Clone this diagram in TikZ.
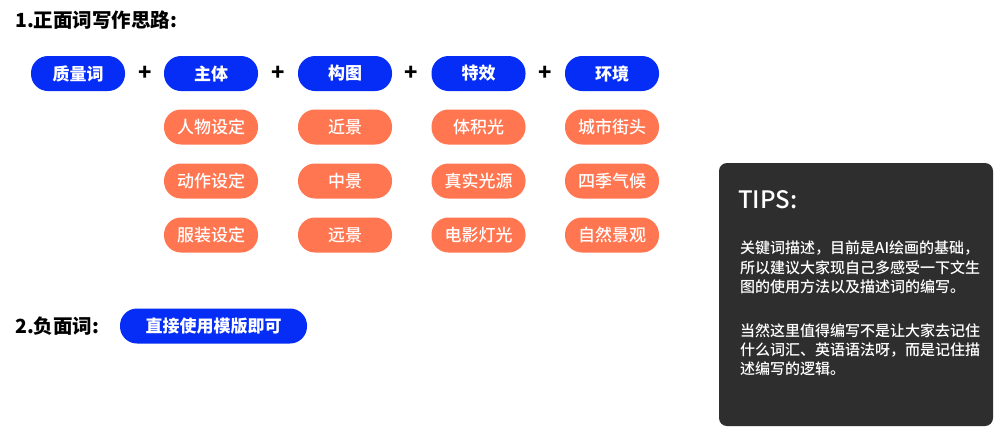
\documentclass[tikz,border=0pt]{standalone}
\usepackage{fontspec}
\setmainfont{Noto Sans CJK SC}
\newfontfamily\medfont{Noto Sans CJK SC Medium}
\usepackage{tikz}
\definecolor{pillblue}{HTML}{052DF5}
\definecolor{pillorange}{HTML}{FF7650}
\definecolor{tipsgray}{HTML}{2E2E2E}

\begin{document}
\begin{tikzpicture}[x=1pt,y=-1pt,
    bluepill/.style={fill=pillblue,text=white,rounded corners=17pt,
      minimum width=94pt,minimum height=35pt,inner sep=0pt,
      font=\bfseries\fontsize{17}{20}\selectfont},
    orangepill/.style={fill=pillorange,text=white,rounded corners=17pt,
      minimum width=94pt,minimum height=35pt,inner sep=0pt,
      font=\medfont\fontsize{17}{20}\selectfont},
    plussign/.style={inner sep=0pt,font=\bfseries\fontsize{22}{22}\selectfont},
    heading/.style={anchor=west,inner sep=0pt,font=\bfseries\fontsize{19.5}{22}\selectfont},
    tipline/.style={anchor=west,inner sep=0pt,text=white,font=\medfont\fontsize{15}{19}\selectfont}]
        \useasboundingbox (0,0) rectangle (1000,432);
        \fill[white] (0,0) rectangle (1000,432);
        % part 1
        \node[heading] (title1) at (15,20) {1.正面词写作思路:};
        \node[bluepill] (quality) at (78,73.5) {质量词};
        \node[plussign] (plusA) at (145,73) {+};
        \node[bluepill] (subject) at (211,73.5) {主体};
        \node[plussign] (plusB) at (278,73) {+};
        \node[bluepill] (compose) at (345,73.5) {构图};
        \node[plussign] (plusC) at (411,73) {+};
        \node[bluepill] (effect) at (478.5,73.5) {特效};
        \node[plussign] (plusD) at (545,73) {+};
        \node[bluepill] (scene) at (612,73.5) {环境};
        % subject column
        \node[orangepill] (figure) at (211,127) {人物设定};
        \node[orangepill] (action) at (211,181) {动作设定};
        \node[orangepill] (dress) at (211,235) {服装设定};
        % composition column
        \node[orangepill] (near) at (345,127) {近景};
        \node[orangepill] (middle) at (345,181) {中景};
        \node[orangepill] (far) at (345,235) {远景};
        % effect column
        \node[orangepill] (volume) at (478.5,127) {体积光};
        \node[orangepill] (reallight) at (478.5,181) {真实光源};
        \node[orangepill] (filmlight) at (478.5,235) {电影灯光};
        % scene column
        \node[orangepill] (street) at (612,127) {城市街头};
        \node[orangepill] (season) at (612,181) {四季气候};
        \node[orangepill] (nature) at (612,235) {自然景观};
        % part 2
        \node[heading] (title2) at (15,326) {2.负面词:};
        \node[bluepill,minimum width=187pt] (template) at (213.5,326) {直接使用模版即可};
        % tips box
        \fill[tipsgray,rounded corners=8pt] (719,163) rectangle (993,426);
        \node[anchor=west,inner sep=0pt,text=white,font=\medfont\fontsize{24}{26}\selectfont] (tips) at (738,200) {TIPS:};
        \node[tipline] (tipA) at (740,248) {关键词描述，目前是AI绘画的基础，};
        \node[tipline] (tipB) at (740,267.5) {所以建议大家现自己多感受一下文生};
        \node[tipline] (tipC) at (740,287) {图的使用方法以及描述词的编写。};
        \node[tipline] (tipD) at (740,331) {当然这里值得编写不是让大家去记住};
        \node[tipline] (tipE) at (740,350) {什么词汇、英语语法呀，而是记住描};
        \node[tipline] (tipF) at (740,369) {述编写的逻辑。};
      \end{tikzpicture}
\end{document}
